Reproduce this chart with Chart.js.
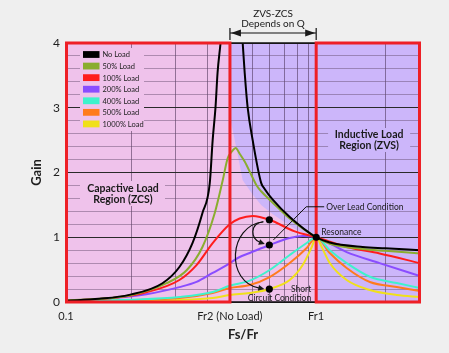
<!DOCTYPE html>
<html><head><meta charset="utf-8">
<script src="https://cdn.jsdelivr.net/npm/chart.js@4.4.0/dist/chart.umd.min.js"></script>
<style>html,body{margin:0;padding:0;background:#efefef;overflow:hidden}canvas{display:block}</style>
</head><body>
<canvas id="c" width="449" height="353"></canvas>
<script>
// ---------- axis values ----------
const xMin = 0.111, xMax = 2.74, fr2 = 0.49, fr1 = 1.07;
const xTickValues = [xMin, fr2, fr1];
const xTickText = ['0.1', 'Fr2 (No Load)', 'Fr1'];
const xGridValues = [0.2, 0.3, 0.4, 0.6, 0.7, 0.8, 0.9, 1.0, 2.0];
const yGridValues = [0,0.2,0.4,0.6,0.8,1,1.2,1.4,1.6,1.8,2,2.2,2.4,2.6,2.8,3,3.2,3.4,3.6,3.8,4];
const yTickLabels = [0, 1, 2, 3, 4];

// ---------- series ----------
const seriesLabels = ['No Load','50% Load','100% Load','200% Load','400% Load','500% Load','1000% Load'];
const noLoadX = [0.111,0.15,0.197,0.266,0.31,0.349,0.382,0.408,0.419,0.43,0.438,0.45,0.457,0.49,0.545,0.55,0.56,0.575,0.602,0.65,0.67,0.722,0.842,1.07,1.21,1.63,2.0,2.74];
const noLoadY = [0.02,0.05,0.11,0.29,0.54,0.91,1.375,1.83,2.5,3.01,3.54,4.0,4.3,null,4.25,4.0,3.54,3.01,2.5,1.84,1.75,1.58,1.313,1.0,0.92,0.85,0.83,0.80];
const load50X = [0.111,0.197,0.276,0.331,0.382,0.427,0.459,0.48,0.5,0.516,0.535,0.56,0.6,0.624,0.65,0.702,0.76,0.819,1.07,1.21,1.63,2.0,2.74];
const load50Y = [0.02,0.10,0.29,0.49,0.85,1.375,1.88,2.22,2.33,2.38,2.29,2.17,1.93,1.80,1.71,1.58,1.45,1.33,1.0,0.90,0.82,0.79,0.75];
const load100X = [0.111,0.169,0.23,0.31,0.362,0.419,0.489,0.535,0.602,0.702,0.881,1.07,1.41,1.9,2.74];
const load100Y = [0.02,0.06,0.15,0.34,0.57,0.91,1.2,1.29,1.33,1.27,1.09,1.0,0.85,0.75,0.60];
const load200X = [0.111,0.169,0.23,0.31,0.362,0.419,0.476,0.535,0.586,0.702,0.842,0.947,1.07,1.41,1.9,2.74];
const load200Y = [0.02,0.06,0.12,0.23,0.31,0.45,0.57,0.695,0.757,0.88,0.988,1.02,1.0,0.77,0.60,0.40];
const load400X = [0.111,0.2,0.31,0.419,0.489,0.586,0.702,0.842,0.982,1.07,1.21,1.41,1.74,2.22,2.74];
const load400Y = [0.01,0.035,0.077,0.154,0.25,0.33,0.494,0.726,0.911,1.0,0.80,0.602,0.39,0.293,0.216];
const load500X = [0.111,0.2,0.31,0.419,0.489,0.586,0.702,0.842,0.982,1.07,1.21,1.41,1.74,2.22,2.74];
const load500Y = [0.01,0.03,0.06,0.14,0.216,0.263,0.386,0.602,0.834,1.0,0.757,0.525,0.309,0.232,0.17];
const load1000X = [0.111,0.31,0.419,0.489,0.586,0.702,0.842,0.947,1.028,1.07,1.125,1.21,1.41,1.74,2.22,2.74];
const load1000Y = [0.005,0.031,0.062,0.108,0.139,0.201,0.34,0.571,0.849,1.0,0.849,0.602,0.34,0.185,0.108,0.077];

// ZCS / ZVS boundary (peak-gain locus) inside the Fr2..Fr1 band
const boundaryX = [0.49,0.502,0.521,0.55,0.602,0.65,0.72,0.8,0.9,1.07];
const boundaryY = [2.85,2.66,2.35,1.88,1.66,1.50,1.36,1.24,1.11,1.0];

// marked operating points: over load (100%), 200%, short circuit (1000%), resonance
const markerX = [0.7, 0.7, 0.7, 1.07];
const markerY = [1.27, 0.88, 0.2, 1.0];

// ---------- styles ----------
const colors = ['#000000','#8aad2f','#ff1d1d','#8a4dff','#3ef2cc','#ff7b1c','#f0e01a'];
const PINK = '#efc2eb', LAV = '#ccb6fa', BORDER_RED = '#ee1f26', FONT = 'Lato, "Open Sans", sans-serif';

const seriesX = [noLoadX, load50X, load100X, load200X, load400X, load500X, load1000X];
const seriesY = [noLoadY, load50Y, load100Y, load200Y, load400Y, load500Y, load1000Y];
const pts = (xs, ys) => xs.map((x, i) => ({x: x, y: ys[i]}));

const datasets = seriesLabels.map((lab, i) => ({
  label: lab, data: pts(seriesX[i], seriesY[i]),
  borderColor: colors[i], backgroundColor: colors[i], borderWidth: 2,
  pointRadius: 0, fill: false, cubicInterpolationMode: 'monotone', spanGaps: false, order: 1
}));
datasets.push({
  label: 'markers', data: pts(markerX, markerY), showLine: false,
  pointRadius: 3.6, pointBackgroundColor: '#000', pointBorderColor: '#000', pointBorderWidth: 0, order: -1
});

function arrowHead(ctx, x, y, ang, len, hw) {
  ctx.beginPath();
  ctx.moveTo(x, y);
  ctx.lineTo(x - len*Math.cos(ang) + hw*Math.sin(ang), y - len*Math.sin(ang) - hw*Math.cos(ang));
  ctx.lineTo(x - len*Math.cos(ang) - hw*Math.sin(ang), y - len*Math.sin(ang) + hw*Math.cos(ang));
  ctx.closePath(); ctx.fill();
}

const deco = {
  id: 'deco',
  beforeDraw(chart) {
    const {ctx, chartArea: a, scales: {x, y}} = chart;
    ctx.save();
    ctx.fillStyle = '#efefef'; ctx.fillRect(0, 0, chart.width, chart.height);
    const x2 = x.getPixelForValue(fr2);
    ctx.fillStyle = PINK; ctx.fillRect(a.left, a.top, x2 - a.left, a.bottom - a.top);
    ctx.fillStyle = LAV; ctx.fillRect(x2, a.top, a.right - x2, a.bottom - a.top);
    ctx.fillStyle = PINK; ctx.beginPath();
    ctx.moveTo(x.getPixelForValue(boundaryX[0]), y.getPixelForValue(0));
    boundaryX.forEach((bx, i) => ctx.lineTo(x.getPixelForValue(bx), y.getPixelForValue(boundaryY[i])));
    ctx.lineTo(x.getPixelForValue(boundaryX[boundaryX.length-1]), y.getPixelForValue(0));
    ctx.closePath(); ctx.fill();
    ctx.restore();
  },
  beforeDatasetsDraw(chart) {
    const {ctx, chartArea: a, scales: {x, y}} = chart;
    ctx.save();
    // legend
    ctx.fillStyle = PINK; ctx.fillRect(a.left + 14, a.top + 5, 64, 83);
    ctx.font = '7.5px ' + FONT; ctx.textBaseline = 'middle'; ctx.textAlign = 'left';
    seriesLabels.forEach((lab, i) => {
      const cy = a.top + 11.5 + i * 11.57;
      ctx.fillStyle = colors[i]; ctx.fillRect(a.left + 17, cy - 3.4, 16.5, 6.8);
      ctx.fillStyle = '#222'; ctx.fillText(lab, a.left + 36.5, cy + 0.5);
    });
    // region labels
    ctx.font = 'bold 10.5px ' + FONT; ctx.textAlign = 'center';
    ctx.fillStyle = PINK; ctx.fillRect(a.left + 14, 181, 85, 25);
    ctx.fillStyle = '#1a1a1a';
    ctx.fillText('Capactive Load', a.left + 57, 188.5);
    ctx.fillText('Region (ZCS)', a.left + 57, 199.5);
    const x1 = x.getPixelForValue(fr1), cx = (x1 + a.right) / 2;
    ctx.fillStyle = LAV; ctx.fillRect(cx - 40, 128, 82, 24);
    ctx.fillStyle = '#1a1a1a';
    ctx.fillText('Inductive Load', cx + 1, 134.5);
    ctx.fillText('Region (ZVS)', cx + 1, 146);
    ctx.restore();
  },
  beforeDatasetDraw(chart, args) {
    if (args.index !== datasets.length - 1) return;
    const {ctx, chartArea: a, scales: {x}} = chart;
    const x2 = x.getPixelForValue(fr2), x1 = x.getPixelForValue(fr1);
    ctx.save();
    ctx.strokeStyle = '#111'; ctx.lineWidth = 1.6;
    ctx.beginPath(); ctx.moveTo(x2, a.top); ctx.lineTo(x1, a.top);
    ctx.moveTo(x2, a.bottom); ctx.lineTo(x1, a.bottom); ctx.stroke();
    ctx.strokeStyle = BORDER_RED; ctx.lineWidth = 3;
    ctx.strokeRect(a.left + 0.5, a.top, x2 - a.left - 0.5, a.bottom - a.top);
    ctx.strokeRect(x1, a.top, a.right - x1 - 0.5, a.bottom - a.top);
    ctx.restore();
  },
  afterDatasetsDraw(chart) {
    const {ctx, chartArea: a, scales: {x, y}} = chart;
    const x2 = x.getPixelForValue(fr2), x1 = x.getPixelForValue(fr1);
    const P = markerX.map((mx, i) => ({x: x.getPixelForValue(mx), y: y.getPixelForValue(markerY[i])}));
    const [r, p, s, q] = P;
    ctx.save();
    ctx.fillStyle = '#1a1a1a'; ctx.strokeStyle = '#111';
    // ZVS-ZCS band marker
    ctx.font = '10px ' + FONT; ctx.textAlign = 'center'; ctx.textBaseline = 'middle';
    const mid = (x2 + x1) / 2;
    ctx.fillText('ZVS-ZCS', mid, a.top - 29.5);
    ctx.fillText('Depends on Q', mid, a.top - 19);
    const ay = a.top - 10;
    ctx.lineWidth = 1.2;
    ctx.beginPath();
    ctx.moveTo(x2, ay); ctx.lineTo(x1, ay);
    ctx.moveTo(x2, a.top - 15); ctx.lineTo(x2, a.top - 3);
    ctx.moveTo(x1, a.top - 15); ctx.lineTo(x1, a.top - 3);
    ctx.stroke();
    arrowHead(ctx, x2 + 1, ay, Math.PI, 10, 3.5);
    arrowHead(ctx, x1 - 1, ay, 0, 10, 3.5);
    // over load leader
    ctx.lineWidth = 1;
    ctx.beginPath();
    ctx.moveTo(q.x + 8, r.y - 13); ctx.lineTo(q.x - 10, r.y - 13); ctx.lineTo(p.x + 4, p.y - 5);
    ctx.stroke();
    ctx.font = '8.5px ' + FONT; ctx.textAlign = 'left';
    ctx.fillText('Over Lead Condition', q.x + 10, r.y - 13);
    ctx.fillText('Resonance', q.x + 5, q.y - 5);
    ctx.textAlign = 'right';
    ctx.fillText('Short', q.x - 5, s.y);
    ctx.fillText('Circuit Condition', q.x - 5, s.y + 9);
    // curved arrows
    ctx.lineWidth = 1.2;
    ctx.beginPath();
    ctx.moveTo(r.x - 6, r.y + 2);
    ctx.bezierCurveTo(r.x - 20, r.y + 4, r.x - 19, p.y - 6, p.x - 9, p.y - 2.5);
    ctx.stroke();
    arrowHead(ctx, p.x - 4.5, p.y - 1, Math.atan2(3.5, 10), 6, 3);
    ctx.beginPath();
    ctx.moveTo(r.x - 6, r.y + 2);
    ctx.bezierCurveTo(r.x - 41, r.y + 6, r.x - 44, s.y - 7, s.x - 10, s.y - 1);
    ctx.stroke();
    arrowHead(ctx, s.x - 5, s.y, Math.atan2(2, 10), 6, 3);
    ctx.restore();
  }
};

new Chart(document.getElementById('c'), {
  type: 'line',
  data: {datasets},
  plugins: [deco],
  options: {
    responsive: false, animation: false, devicePixelRatio: 1,
    layout: {padding: {top: 43, right: 29, bottom: 0, left: 0}},
    plugins: {legend: {display: false}, tooltip: {enabled: false}},
    scales: {
      x: {
        type: 'logarithmic', min: xMin, max: xMax,
        afterBuildTicks: sc => { sc.ticks = xTickValues.concat(xGridValues).sort((m, n) => m - n).map(v => ({value: v})); },
        afterFit: sc => { sc.height = 51; },
        ticks: {
          autoSkip: false, maxRotation: 0, minRotation: 0, padding: 8, color: '#1e1e1e',
          font: {family: FONT, size: 11},
          callback: v => { const i = xTickValues.indexOf(v); return i >= 0 ? xTickText[i] : ''; }
        },
        grid: {drawTicks: false, lineWidth: 1,
          color: c => (c.tick && xGridValues.indexOf(c.tick.value) >= 0) ? 'rgba(70,45,80,0.55)' : 'rgba(0,0,0,0)'},
        border: {display: false},
        title: {display: true, text: 'Fs/Fr', color: '#1e1e1e', font: {family: FONT, size: 13, weight: 'bold'}, padding: {top: 0, bottom: 10}}
      },
      y: {
        type: 'linear', min: 0, max: 4,
        afterBuildTicks: sc => { sc.ticks = yGridValues.map(v => ({value: v})); },
        afterFit: sc => { sc.width = 66; },
        ticks: {
          autoSkip: false, padding: 6, color: '#1e1e1e', font: {family: FONT, size: 12},
          callback: v => { const k = yTickLabels.find(t => Math.abs(t - v) < 1e-6); return k === undefined ? '' : String(k); }
        },
        grid: {drawTicks: false, lineWidth: 1,
          color: c => { const v = c.tick ? c.tick.value : 0; return yTickLabels.some(t => Math.abs(t - v) < 1e-6) ? '#2a2a2a' : 'rgba(95,70,105,0.45)'; }},
        border: {display: false},
        title: {display: true, text: 'Gain', color: '#1e1e1e', font: {family: FONT, size: 13, weight: 'bold'}, padding: {top: 29, bottom: 0}}
      }
    }
  }
});
</script>
</body></html>
